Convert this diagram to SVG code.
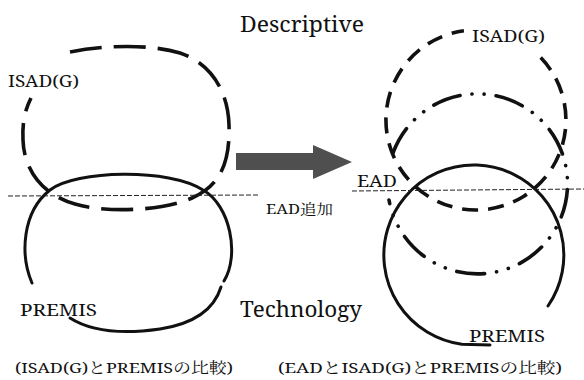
<svg xmlns="http://www.w3.org/2000/svg" width="584" height="380" viewBox="0 0 584 380">
  <style>
    .lbl { font-family: "Noto Serif", "Noto Serif CJK JP", "Liberation Serif", "Noto Sans CJK JP", serif; fill: #111; }
    .cap { font-family: "Noto Serif", "Noto Serif CJK JP", "Liberation Serif", "Noto Sans CJK JP", serif; fill: #111; }
    .solid { fill: none; stroke: #111; stroke-width: 3; stroke-linecap: round; }
    .dash { fill: none; stroke: #111; stroke-width: 3.6; stroke-dasharray: 32 12; }
    .dashR { fill: none; stroke: #111; stroke-width: 3.6; stroke-dasharray: 16 10; }
    .dashdot { fill: none; stroke: #111; stroke-width: 3.6; stroke-linecap: round; stroke-dasharray: 28 12 0.1 12 0.1 12; }
    .axis { fill: none; stroke: #222; stroke-width: 1; stroke-dasharray: 5 2; }
  </style>

  <!-- headings -->
  <text class="lbl" x="240" y="32" font-size="21" textLength="124" lengthAdjust="spacingAndGlyphs">Descriptive</text>
  <text class="lbl" x="240" y="317" font-size="21" textLength="122" lengthAdjust="spacingAndGlyphs">Technology</text>

  <!-- left: ISAD(G) vs PREMIS -->
  <g id="left-isad">
    <path class="dash" d="M70,52 C105,45 150,44 180,53 C210,63 228,90 229,125 C230,160 222,185 192,198 C165,210 110,214 75,204 C45,196 24,172 23,140 C22,120 26,108 31,98"/>
    <text class="lbl" x="8" y="87" font-size="16" textLength="71" lengthAdjust="spacingAndGlyphs">ISAD(G)</text>
  </g>
  <g id="left-premis">
    <path class="solid" d="M32,283 C20,255 22,212 50,190 C75,170 170,168 203,190 C230,205 240,255 224,281"/>
    <path class="solid" d="M221,287 C214,310 192,324 160,329 C125,334 92,332 70,318"/>
    <text class="lbl" x="20" y="316" font-size="17" textLength="77" lengthAdjust="spacingAndGlyphs">PREMIS</text>
  </g>

  <!-- right: EAD added between ISAD(G) and PREMIS -->
  <g id="right-isad">
    <path class="dashR" d="M540.7,57.5 A90,90 0 1 1 463.9,30.8"/>
    <text class="lbl" x="472" y="42" font-size="16" textLength="73" lengthAdjust="spacingAndGlyphs">ISAD(G)</text>
  </g>
  <g id="right-ead">
    <path class="dashdot" d="M393,153 A90,90 0 1 1 389,200"/>
    <text class="lbl" x="357" y="187" font-size="16" textLength="40" lengthAdjust="spacingAndGlyphs">EAD</text>
  </g>
  <g id="right-premis">
    <path class="solid" d="M548,306 A90,90 0 1 0 461.8,344.2 L490,345"/>
    <text class="lbl" x="469" y="342" font-size="17" textLength="76" lengthAdjust="spacingAndGlyphs">PREMIS</text>
  </g>

  <!-- connectors: boundary lines and transition arrow -->
  <g id="connectors">
    <line class="axis" x1="8" y1="196" x2="258" y2="195"/>
    <line class="axis" x1="352" y1="191" x2="584" y2="189"/>
    <polygon points="236,153 313,153 313,145 352,162 313,179 313,170 236,170" fill="#4f4f4f"/>
    <text class="lbl" x="266" y="214" font-size="14" textLength="67" lengthAdjust="spacingAndGlyphs">EAD追加</text>
  </g>

  <!-- captions -->
  <text class="cap" x="15" y="373" font-size="15" textLength="218" lengthAdjust="spacingAndGlyphs">(ISAD(G)とPREMISの比較)</text>
  <text class="cap" x="278" y="373" font-size="15" textLength="284" lengthAdjust="spacingAndGlyphs">(EADとISAD(G)とPREMISの比較)</text>
</svg>
